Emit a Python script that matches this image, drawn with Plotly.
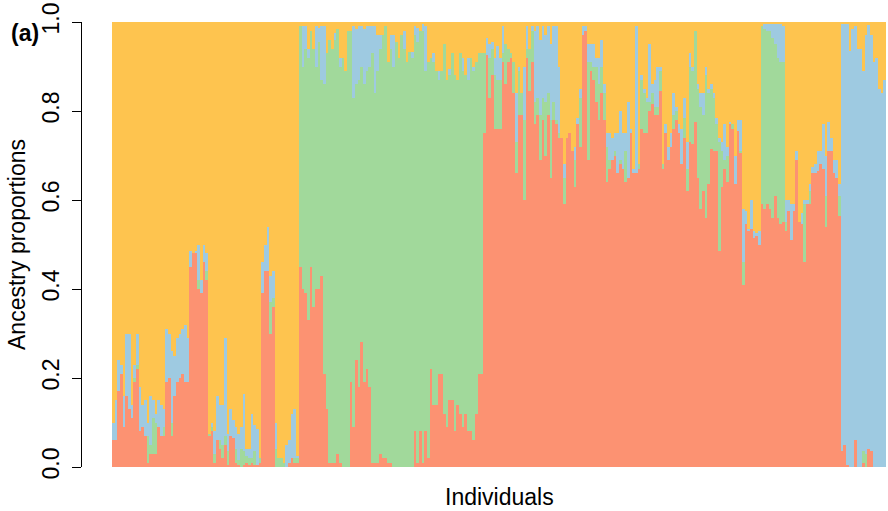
import plotly.graph_objects as go

# Ancestry proportions (K = 4) for each individual, in plotting order.
q_red = [
    .06, .06, .17, .21, .09, .16, .13, .11, .19, .22,
    .08, .09, .07, .01, .03, .03, .03, .09, .07, .07,
    .19, .20, .07, .16, .19, .20, .21, .19, .19, .45,
    .48, .48, .40, .39, .46, .42, .07, .08, .01, .06,
    .04, .02, .05, .005, .07, .065, .01, .005, 0, .005,
    .01, .005, .01, .005, .005, .01, .39, .44, .44, .30,
    .36, 0, 0, 0, 0, 0, .01, .02, .01, .01,
    .45, .40, .39, .33, .45, .36, .40, .40, .43, .21,
    .13, .01, .01, .01, .03, .01, 0, 0, 0, .19,
    .09, .24, .18, .28, .19, .22, .18, .01, .01, .01,
    .03, .02, .02, .01, .01, 0, 0, 0, 0, 0,
    0, 0, 0, .08, .01, .08, .01, .08, .02, .22,
    .14, .14, .21, .21, .12, .09, .15, .15, .08, .14,
    .12, .09, .12, .08, .08, .06, .12, .21, .21, .75,
    .925, .83, .88, .76, .76, .76, .91, .86, .91, .92,
    .84, .66, .79, .79, .60, .92, .845, .91, .77, .79,
    .69, .78, .70, .79, .65, .78, .77, .74, .74, .59,
    .74, .75, .71, .63, .77, .72, .97, .98, .69, .89,
    .87, .82, .78, .84, .78, .64, .67, .69, .70, .66,
    .68, .67, .64, .65, .75, .66, .66, .67, .76, .75,
    .75, .80, .815, .79, .79, .845, .67, .75, .69, .72,
    .76, .78, .75, .68, .74, .62, .73, .725, .775, .65,
    .58, .62, .56, .635, .715, .71, .71, .485, .63, .67,
    .64, .77, .76, .635, .755, .705, .41, .545, .53, .535,
    .515, .52, .50, .59, .58, .59, .58, .56, .61, .56,
    .545, .55, .53, .575, .51, .575, .69, .55, .545, .46,
    .59, .59, .66, .66, .665, .68, .67, .54, .71, .71,
    .66, .65, .565, .035, .05, .005, 0, 0, .06, 0,
    0, .01, 0, .04, .035, 0, 0, 0, 0, 0,
]

q_green = [
    0, 0, 0, 0, 0, 0, 0, 0, .01, .01,
    0, 0, 0, .06, .02, .08, .07, 0, 0, .02,
    0, 0, .03, 0, 0, 0, 0, 0, 0, 0,
    0, 0, .02, 0, 0, .02, .005, .01, .02, 0,
    .02, .03, .02, .03, 0, 0, .03, .01, .04, .03,
    .015, .015, .01, .03, 0, .01, 0, 0, 0, .07,
    .02, .04, .02, .02, .01, 0, 0, 0, .01, .01,
    .54, .50, .55, .59, .53, .58, .50, .556, .44, .65,
    .80, .95, .93, .95, .955, .89, .92, .89, .98, .79,
    .74, .62, .69, .62, .67, .67, .72, .92, .83, .88,
    .91, .95, .97, .90, .93, .90, .956, .918, .97, .94,
    .91, .933, .918, .89, .946, .90, .97, .81, .89, .70,
    .77, .75, .66, .68, .83, .78, .73, .78, .80, .73,
    .81, .80, .76, .79, .84, .83, .79, .72, .72, .18,
    0, .09, .06, .12, .11, .11, .02, .09, .03, .01,
    .07, .07, .10, .05, .18, .02, .095, .07, .05, .04,
    .10, .05, .12, .05, .13, .04, .01, .01, 0, .06,
    0, 0, 0, .06, 0, .11, 0, 0, .22, .02,
    .03, .08, .08, .06, .06, .08, .02, 0, .01, 0,
    .01, 0, .07, 0, 0, 0, 0, .01, .11, .09,
    .07, .02, .025, .02, .02, .045, .01, 0, 0, 0,
    .03, .02, 0, 0, .045, .05, .17, .165, .205, .20,
    .23, .17, .32, .205, .135, .12, .06, .245, .08, .02,
    .06, 0, .01, 0, 0, .005, .05, 0, 0, 0,
    0, 0, 0, .40, .405, .39, .40, .405, .34, .36,
    .365, .36, .02, 0, 0, 0, 0, 0, 0, .13,
    0, .03, 0, 0, 0, 0, 0, .07, 0, 0,
    0, 0, .045, 0, 0, 0, 0, 0, 0, 0,
    0, .025, .03, 0, 0, 0, 0, 0, 0, 0,
]

q_blue = [
    .04, .09, .07, .02, .07, .14, .17, .03, .03, .07,
    .10, .05, .08, .03, .11, .04, .02, .06, .07, .04,
    .12, .10, .16, .09, .10, .10, .10, .13, .10, .035,
    0, .005, .08, .03, .04, .04, 0, .01, .05, .10,
    .08, .09, .22, .04, .06, .04, .05, .06, .05, .13,
    .015, .02, .10, .06, .08, 0, .07, .06, .10, .06,
    .06, .06, 0, 0, 0, .05, .05, .10, .11, .005,
    0, .09, .05, .02, 0, 0, .09, .03, .12, .13,
    0, 0, 0, .015, 0, .02, 0, 0, 0, 0,
    .16, .125, .12, .09, .125, .10, .09, .06, .15, .08,
    .03, 0, 0, 0, .03, .07, 0, 0, 0, .04,
    0, 0, .015, .02, .03, 0, .015, .10, 0, 0,
    .02, 0, .02, 0, 0, 0, .015, 0, 0, 0,
    0, .03, 0, .05, 0, .01, 0, 0, 0, 0,
    .04, .03, .015, .04, .075, .05, .06, 0, 0, 0,
    0, .11, .01, 0, .12, .05, 0, .01, .16, .16,
    .17, .16, .15, .15, .17, .17, .21, .15, 0, .03,
    0, 0, 0, .03, .015, .02, .02, .01, .04, .04,
    .05, .02, .06, .06, .02, .03, .06, .05, .04, .09,
    .11, .08, .04, .17, .01, .01, .33, 0, .01, .01,
    .01, .13, .02, .06, .09, .01, 0, .02, .03, .03,
    .05, .01, .02, .08, .045, .06, .03, .01, 0, .01,
    .03, .05, .02, .01, .01, .01, .015, .01, .02, .08,
    .02, .005, 0, .065, .025, .07, .12, .03, .005, .065,
    .015, .005, .03, 0, .01, .015, .015, .03, .045, .075,
    .085, .08, .05, .025, .08, .015, .02, 0, .025, .01,
    .01, .015, .015, .02, .045, .03, .10, .09, .065, .03,
    .03, .04, .025, .96, .945, .99, .935, .985, .93, .94,
    .94, .855, .94, .954, .935, .91, .92, .85, .84, .87,
]

q_orange = [
    .90, .85, .76, .77, .84, .70, .70, .86, .77, .70,
    .82, .86, .85, .90, .84, .85, .88, .85, .86, .87,
    .69, .70, .74, .75, .71, .70, .69, .68, .71, .515,
    .52, .515, .50, .58, .50, .52, .925, .90, .92, .84,
    .86, .86, .71, .925, .87, .895, .91, .925, .91, .835,
    .96, .96, .88, .905, .915, .98, .54, .50, .46, .57,
    .56, .90, .98, .98, .99, .95, .94, .88, .87, .975,
    .01, .01, .01, .06, .02, .06, .01, .014, .01, .01,
    .07, .04, .06, .025, .015, .08, .08, .11, .02, .02,
    .01, .015, .01, .01, .015, .01, .01, .01, .01, .03,
    .03, .03, .01, .09, .03, .03, .044, .082, .03, .02,
    .09, .067, .067, .01, .014, .02, .005, .01, .09, .08,
    .07, .11, .11, .11, .05, .13, .105, .07, .12, .13,
    .07, .08, .12, .08, .08, .10, .09, .07, .07, .07,
    .035, .05, .045, .08, .055, .08, .01, .05, .06, .07,
    .09, .16, .10, .16, .10, .01, .06, .01, .02, .01,
    .04, .01, .03, .01, .05, .01, .01, .10, .26, .32,
    .26, .25, .29, .28, .215, .15, .01, .01, .05, .05,
    .05, .08, .08, .04, .14, .25, .25, .26, .25, .25,
    .20, .25, .25, .18, .24, .33, .01, .32, .12, .15,
    .17, .05, .14, .13, .10, .10, .32, .23, .28, .25,
    .16, .19, .23, .24, .17, .27, .07, .10, .02, .14,
    .16, .16, .10, .15, .14, .16, .215, .26, .27, .23,
    .28, .225, .23, .30, .22, .22, .42, .425, .465, .40,
    .47, .475, .47, .01, .005, .005, .005, .005, .005, .005,
    .005, .01, .40, .40, .41, .41, .29, .45, .43, .40,
    .40, .365, .325, .32, .29, .29, .23, .30, .225, .26,
    .31, .31, .365, .005, .005, .005, .065, .015, .01, .06,
    .06, .11, .03, .006, .03, .09, .08, .15, .16, .13,
]

individuals = list(range(len(q_red)))

# Stacking order, bottom to top, with one colour per cluster
clusters = [
    ("Cluster 1", q_red, "#FC9272"),
    ("Cluster 2", q_green, "#A1D99B"),
    ("Cluster 3", q_blue, "#9ECAE1"),
    ("Cluster 4", q_orange, "#FEC44F"),
]

fig = go.Figure()
for name, q, colour in clusters:
    fig.add_trace(go.Bar(
        x=individuals, y=q, name=name,
        marker=dict(color=colour, line=dict(width=0)),
        hoverinfo="skip",
    ))

# Leave an empty gutter between the y axis line and the first bar
n = len(individuals)
gutter = 30 / (774 / n)
plot_w = 804   # pixel width of the plotting area (axis line to right edge)
plot_h = 445   # pixel height of the plotting area

font_family = "Liberation Sans, Arial, sans-serif"
fsize = 23

fig.update_layout(
    width=888, height=511,
    margin=dict(l=82, r=2, t=22, b=44),
    paper_bgcolor="white", plot_bgcolor="white",
    barmode="stack", bargap=0,
    showlegend=False,
    font=dict(family=font_family, size=fsize, color="black"),
    xaxis=dict(
        range=[-0.5 - gutter, n - 0.5],
        showticklabels=False, ticks="", showline=False,
        showgrid=False, zeroline=False,
    ),
    yaxis=dict(
        range=[0, 1],
        tickvals=[0, 0.2, 0.4, 0.6, 0.8, 1.0],
        ticktext=["0.0", "0.2", "0.4", "0.6", "0.8", "1.0"],
        tickangle=-90,
        ticks="outside", ticklen=9, tickwidth=1, tickcolor="black",
        ticklabelstandoff=4,
        showline=True, linecolor="black", linewidth=1,
        showgrid=False, zeroline=False,
        tickfont=dict(size=fsize, family=font_family),
        title=dict(text="Ancestry proportions", standoff=5,
                   font=dict(size=fsize, family=font_family)),
    ),
    annotations=[
        # x-axis label, centred under the bars rather than the whole axis
        dict(text="Individuals", xref="paper", yref="paper",
             x=(30 + 774 / 2) / plot_w, y=-30 / plot_h,
             xanchor="center", yanchor="middle", showarrow=False,
             font=dict(size=fsize, family=font_family, color="black")),
        dict(text="<b>(a)</b>", xref="paper", yref="paper",
             x=-73 / plot_w, y=(445 - 11) / plot_h,
             xanchor="left", yanchor="middle", showarrow=False,
             font=dict(size=fsize, family=font_family, color="black")),
    ],
)

fig.write_html("out.html")
